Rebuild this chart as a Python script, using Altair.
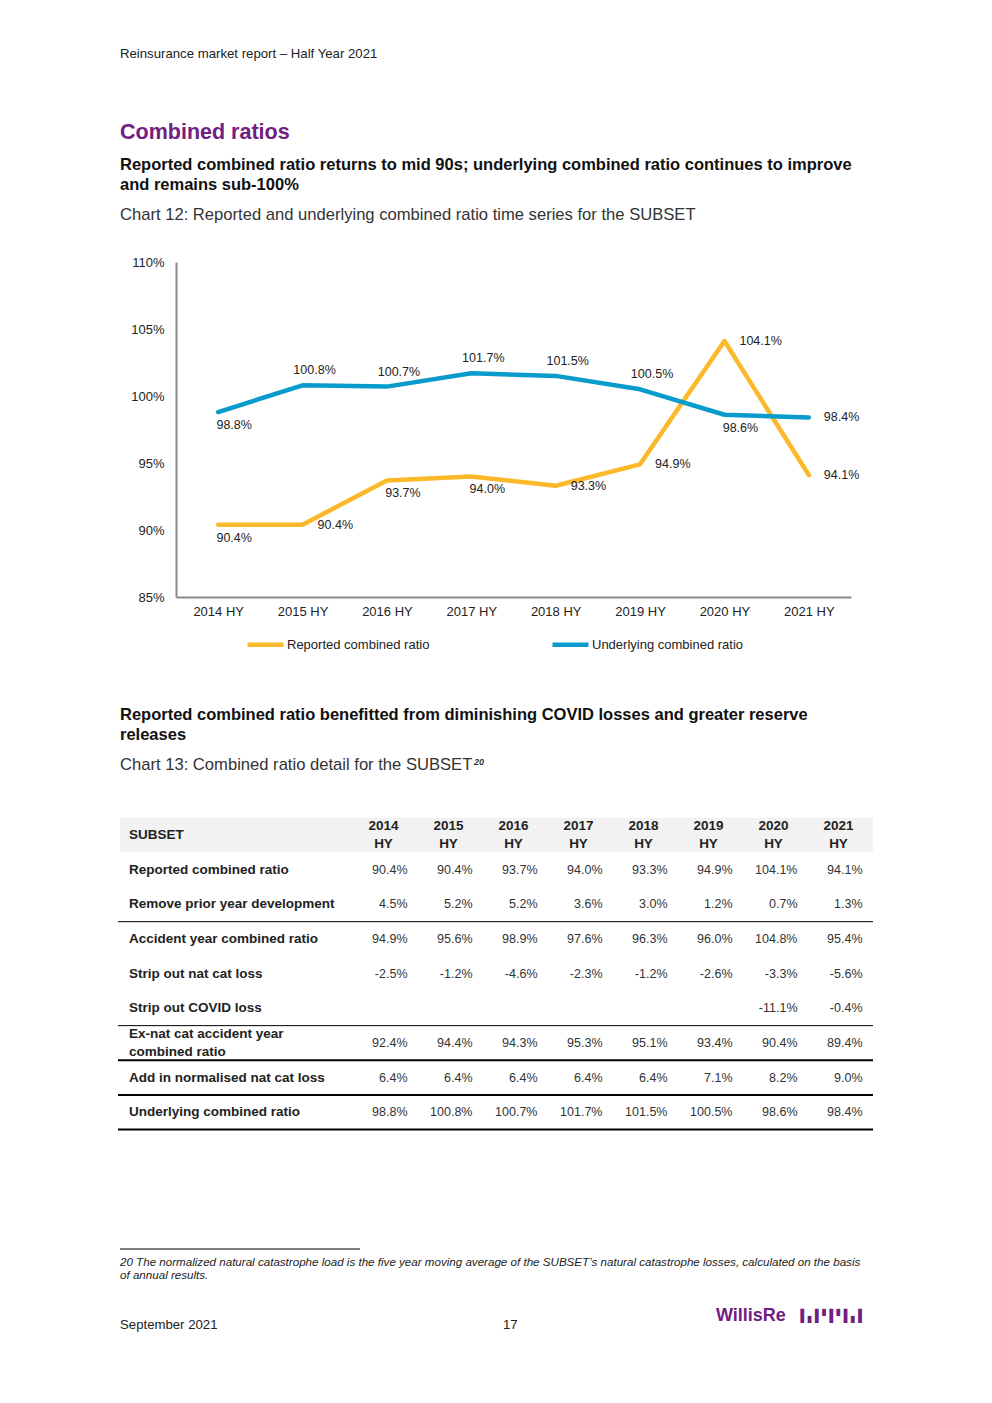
import altair as alt
import pandas as pd

# ---------------- data ----------------
periods = ["2014 HY", "2015 HY", "2016 HY", "2017 HY", "2018 HY", "2019 HY", "2020 HY", "2021 HY"]
reported = [90.4, 90.4, 93.7, 94.0, 93.3, 94.9, 104.1, 94.1]
underlying = [98.8, 100.8, 100.7, 101.7, 101.5, 100.5, 98.6, 98.4]
series_names = ["Reported combined ratio", "Underlying combined ratio"]
series_colors = ["#FBB829", "#0A9BCD"]
reported_label_pos = ["below", "right", "below", "below", "right", "right", "right", "right"]
underlying_label_pos = ["below", "above", "above", "above", "above", "above", "below", "right"]
y_ticks = [85, 90, 95, 100, 105, 110]

row_keys = ["r0", "r1", "r2", "r3", "r4", "r5", "r6", "r7", "r8"]
row_labels = ["SUBSET", "Reported combined ratio", "Remove prior year development",
              "Accident year combined ratio", "Strip out nat cat loss", "Strip out COVID loss",
              "Ex-nat cat accident year\ncombined ratio", "Add in normalised nat cat loss",
              "Underlying combined ratio"]
t_reported = [90.4, 90.4, 93.7, 94.0, 93.3, 94.9, 104.1, 94.1]
t_prior_year = [4.5, 5.2, 5.2, 3.6, 3.0, 1.2, 0.7, 1.3]
t_accident_year = [94.9, 95.6, 98.9, 97.6, 96.3, 96.0, 104.8, 95.4]
t_nat_cat = [-2.5, -1.2, -4.6, -2.3, -1.2, -2.6, -3.3, -5.6]
t_covid = [None, None, None, None, None, None, -11.1, -0.4]
t_ex_nat_cat = [92.4, 94.4, 94.3, 95.3, 95.1, 93.4, 90.4, 89.4]
t_normalised = [6.4, 6.4, 6.4, 6.4, 6.4, 7.1, 8.2, 9.0]
t_underlying = [98.8, 100.8, 100.7, 101.7, 101.5, 100.5, 98.6, 98.4]
thin_border_rows = ["r2", "r5"]
thick_border_rows = ["r6", "r7", "r8"]

header_text = "Reinsurance market report \u2013 Half Year 2021"
section_title = "Combined ratios"
heading1_l1 = "Reported combined ratio returns to mid 90s; underlying combined ratio continues to improve"
heading1_l2 = "and remains sub-100%"
caption1 = "Chart 12: Reported and underlying combined ratio time series for the SUBSET"
heading2_l1 = "Reported combined ratio benefitted from diminishing COVID losses and greater reserve"
heading2_l2 = "releases"
caption2 = "Chart 13: Combined ratio detail for the SUBSET"
caption2_sup = "20"
footnote_l1 = "20 The normalized natural catastrophe load is the five year moving average of the SUBSET\u2019s natural catastrophe losses, calculated on the basis"
footnote_l2 = "of annual results."
footer_date = "September 2021"
footer_page = "17"
logo_text = "WillisRe"
logo_mark = "\u2590\u2597\u2590\u259D\u2590\u259D\u2590\u2597\u2590"

# ---------------- layout ----------------
OX, OY = 176, 262          # page position of the line chart's plot area
W, H = 675, 335
FONT = "Liberation Sans"
TXT = "#222222"
PURPLE = "#702082"

# ---------------- line chart ----------------
line_df = pd.DataFrame({
    "period": periods * 2,
    "value": reported + underlying,
    "series": [series_names[0]] * len(periods) + [series_names[1]] * len(periods),
    "pos": reported_label_pos + underlying_label_pos,
})

x_enc = alt.X("period:N", sort=periods, scale=alt.Scale(domain=periods),
              axis=alt.Axis(title=None, labelAngle=0, ticks=False, labelPadding=8,
                            labelFontSize=13, labelColor=TXT, labelFont=FONT,
                            domainColor="#898989", domainWidth=2))
y_enc = alt.Y("value:Q", scale=alt.Scale(domain=[85, 110], nice=False, zero=False),
              axis=alt.Axis(title=None, values=y_ticks, labelExpr="datum.value + '%'",
                            grid=False, ticks=False, labelPadding=12, labelFontSize=13,
                            labelColor=TXT, labelFont=FONT,
                            domainColor="#898989", domainWidth=2))

base = alt.Chart(line_df).encode(x=x_enc, y=y_enc)

lines = base.mark_line(strokeWidth=4.5, strokeJoin="round", strokeCap="round").encode(
    color=alt.Color("series:N", scale=alt.Scale(domain=series_names, range=series_colors),
                    legend=alt.Legend(title=None, orient="none", direction="horizontal",
                                      legendX=69, legendY=362, symbolType="stroke",
                                      symbolSize=1296, symbolStrokeWidth=4.5,
                                      labelFontSize=13, labelFont=FONT, labelColor=TXT,
                                      labelOffset=1, columnPadding=113)),
)

lab = base.transform_calculate(lbl="format(datum.value, '.1f') + '%'")
lab_above = lab.transform_filter("datum.pos == 'above'").mark_text(
    align="center", baseline="middle", dx=12, dy=-15, fontSize=12.5, font=FONT, color=TXT
).encode(text="lbl:N")
lab_below = lab.transform_filter("datum.pos == 'below'").mark_text(
    align="center", baseline="middle", dx=16, dy=13, fontSize=12.5, font=FONT, color=TXT
).encode(text="lbl:N")
lab_right = lab.transform_filter("datum.pos == 'right'").mark_text(
    align="left", baseline="middle", dx=15, dy=0, fontSize=12.5, font=FONT, color=TXT
).encode(text="lbl:N")

line_chart = alt.layer(lines, lab_above, lab_below, lab_right)

# ---------------- table ----------------
table_rows = {
    "r1": t_reported, "r2": t_prior_year, "r3": t_accident_year, "r4": t_nat_cat,
    "r5": t_covid, "r6": t_ex_nat_cat, "r7": t_normalised, "r8": t_underlying,
}
cells = []
for rk, vals in table_rows.items():
    for p, v in zip(periods, vals):
        if v is not None:
            cells.append({"row": rk, "period": p, "txt": f"{v:.1f}%"})
cells_df = pd.DataFrame(cells)
hdr_df = pd.DataFrame({"row": ["r0"] * len(periods), "period": periods,
                       "txt": [p.replace(" ", "\n") for p in periods]})
lbl_df = pd.DataFrame({"row": row_keys, "txt": row_labels})
lbl_df["lines"] = lbl_df["txt"].str.count("\n") + 1

ty = alt.Scale(domain=row_keys, range=[817.7 - OY, 1129.6 - OY], paddingInner=0, paddingOuter=0)
tx = alt.Scale(domain=periods, range=[351 - OX, 871 - OX], paddingInner=0, paddingOuter=0)

hdr_bg = alt.Chart(pd.DataFrame({"row": ["r0"]})).mark_rect(color="#F2F2F2").encode(
    y=alt.Y("row:N", scale=ty, axis=None), x=alt.value(120 - OX), x2=alt.value(873 - OX))
values_txt = alt.Chart(cells_df).mark_text(
    align="right", baseline="middle", dx=24, fontSize=12.5, font=FONT, color="#333333"
).encode(y=alt.Y("row:N", scale=ty, axis=None),
         x=alt.X("period:N", scale=tx, axis=None), text="txt:N")
hdr_txt = alt.Chart(hdr_df).mark_text(
    align="center", baseline="middle", lineBreak="\n", lineHeight=18, dy=-9, fontSize=13.5,
    fontWeight="bold", font=FONT, color=TXT
).encode(y=alt.Y("row:N", scale=ty, axis=None),
         x=alt.X("period:N", scale=tx, axis=None), text="txt:N")
row_txt_single = alt.Chart(lbl_df).transform_filter("datum.lines == 1").mark_text(
    align="left", baseline="middle", fontSize=13.5,
    fontWeight="bold", font=FONT, color=TXT
).encode(y=alt.Y("row:N", scale=ty, axis=None), x=alt.value(129 - OX), text="txt:N")
row_txt_double = alt.Chart(lbl_df).transform_filter("datum.lines == 2").mark_text(
    align="left", baseline="middle", lineBreak="\n", lineHeight=18, dy=-9, fontSize=13.5,
    fontWeight="bold", font=FONT, color=TXT
).encode(y=alt.Y("row:N", scale=ty, axis=None), x=alt.value(129 - OX), text="txt:N")
thin_rules = alt.Chart(pd.DataFrame({"row": thin_border_rows})).mark_rule(
    color="#000000", strokeWidth=1).encode(
    y=alt.Y("row:N", scale=ty, axis=None, bandPosition=1),
    x=alt.value(118 - OX), x2=alt.value(873 - OX))
thick_rules = alt.Chart(pd.DataFrame({"row": thick_border_rows})).mark_rule(
    color="#000000", strokeWidth=2).encode(
    y=alt.Y("row:N", scale=ty, axis=None, bandPosition=1),
    x=alt.value(118 - OX), x2=alt.value(873 - OX))

table = alt.layer(hdr_bg, thin_rules, thick_rules, values_txt, hdr_txt,
                  row_txt_single, row_txt_double)


# ---------------- page text ----------------
def page_text(s, px, py, size=12, weight="normal", color=TXT, style="normal", font=FONT):
    return alt.Chart(pd.DataFrame({"t": [s]})).mark_text(
        align="left", baseline="middle", fontSize=size, fontWeight=weight,
        fontStyle=style, color=color, font=font
    ).encode(x=alt.value(px - OX), y=alt.value(py - OY), text="t:N")


furniture = [
    page_text(header_text, 120, 54, 13.2),
    page_text(section_title, 120, 133, 21.5, "bold", PURPLE),
    page_text(heading1_l1, 120, 165, 16.5, "bold", "#111111"),
    page_text(heading1_l2, 120, 185, 16.5, "bold", "#111111"),
    page_text(caption1, 120, 215, 16.6, "normal", "#333333"),
    page_text(heading2_l1, 120, 715, 16.5, "bold", "#111111"),
    page_text(heading2_l2, 120, 735, 16.5, "bold", "#111111"),
    page_text(caption2, 120, 765, 16.6, "normal", "#333333"),
    page_text(caption2_sup, 474, 762, 9, "bold", "#333333", "italic"),
    page_text(footnote_l1, 120, 1263, 11.6, "normal", TXT, "italic"),
    page_text(footnote_l2, 120, 1276, 11.6, "normal", TXT, "italic"),
    page_text(footer_date, 120, 1325, 13.2),
    page_text(footer_page, 503, 1325, 13.2),
    page_text(logo_text, 716, 1316, 18, "bold", PURPLE),
    page_text(logo_mark, 797, 1316, 12, "bold", PURPLE, font="DejaVu Sans Mono"),
]
foot_rule = alt.Chart(pd.DataFrame({"k": [0]})).mark_rule(color="#000000", strokeWidth=1).encode(
    x=alt.value(120 - OX), x2=alt.value(360 - OX), y=alt.value(1249 - OY))

chart = alt.layer(line_chart, table, foot_rule, *furniture).resolve_scale(
    x="independent", y="independent"
).properties(
    width=W, height=H,
    padding={"left": OX - 8, "top": OY - 8, "right": 976 - (OX - 8) - W, "bottom": 1387 - (OY - 8) - H},
    autosize=alt.AutoSizeParams(type="none"),
).configure(font=FONT, background="white").configure_view(strokeWidth=0, stroke="transparent")

chart.save("out.html", embed_options={"renderer": "svg", "actions": False})
